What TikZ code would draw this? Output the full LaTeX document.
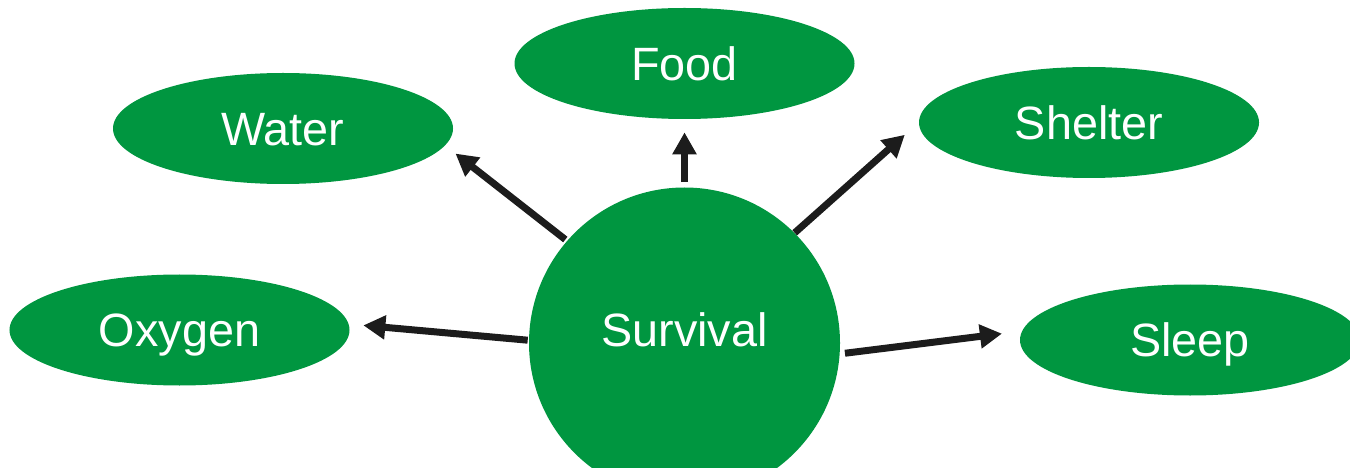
\documentclass[tikz,border=0pt]{standalone}
\usepackage{fontspec}
\setmainfont{Liberation Sans}
\usepackage{tikz}
\usetikzlibrary{shapes.geometric,arrows.meta}
\definecolor{leafgreen}{RGB}{0,150,64}
\definecolor{arrowblack}{RGB}{28,28,28}

\begin{document}
\begin{tikzpicture}[>={Triangle[length=0.44cm,width=0.46cm]}]
\tikzset{every node/.style={fill=leafgreen,text=white,font=\fontsize{26.6}{32}\selectfont,inner sep=0pt}};
\tikzset{need/.style={ellipse,minimum width=6.8cm,minimum height=2.22cm,text height=0.67cm,text depth=0pt}};
\tikzset{link/.style={->,draw=arrowblack,line width=0.14cm}};
\clip (0,0) rectangle (27,-9.36);
% hub
    \node[circle,minimum size=6.22cm,text height=0.67cm,text depth=0.52cm] (surv) at (13.69,-6.86) {Survival};
% needs
    \node[need] (food) at (13.69,-1.27) {Food};
    \node[need] (water) at (5.66,-2.57) {Water};
    \node[need] (shelter) at (21.78,-2.45) {Shelter};
    \node[need] (oxygen) at (3.59,-6.60) {Oxygen};
    \node[need] (sleep) at (23.80,-6.80) {Sleep};
% arrows
    \draw[link,shorten <=0.04cm,shorten >=0.26cm] (surv.139) -- (water.-6);
    \draw[link,shorten <=0.10cm,shorten >=0.26cm] (surv.90) -- (food.south);
    \draw[link,shorten >=0.37cm] (surv.45) -- (shelter.180);
    \draw[link,shorten <=0.02cm,shorten >=0.29cm] (surv.179) -- (oxygen.2);
    \draw[link,shorten <=0.10cm,shorten >=0.40cm] (surv.-4) -- (sleep.177);
\end{tikzpicture}
\end{document}
